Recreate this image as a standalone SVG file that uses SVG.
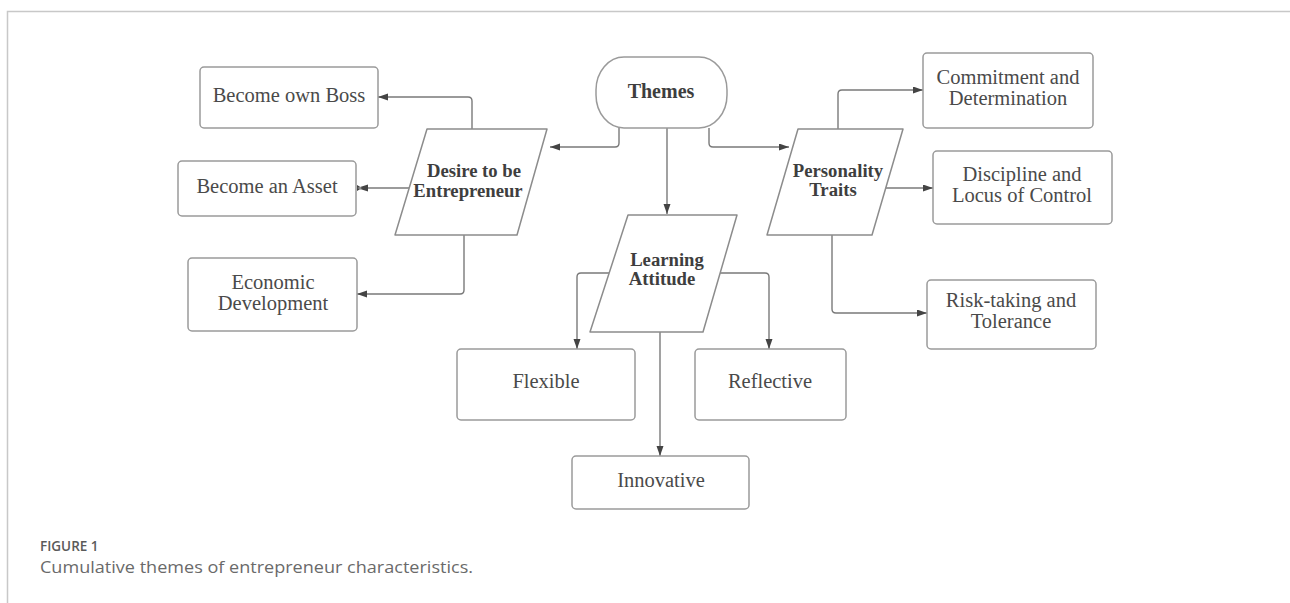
<svg xmlns="http://www.w3.org/2000/svg" width="1290" height="603" viewBox="0 0 1290 603">
  <style>
    .box { fill: #ffffff; stroke: #9a9a9a; stroke-width: 1.5; }
    .para { fill: #ffffff; stroke: #8c8c8c; stroke-width: 1.5; stroke-linejoin: round; }
    .t { font-family: "Liberation Serif", "Times New Roman", serif; font-size: 20.5px; fill: #4a4a4a; text-anchor: middle; }
    .tb { font-family: "Liberation Serif", "Times New Roman", serif; font-size: 18.7px; font-weight: bold; fill: #3e3e3e; text-anchor: middle; }
    .conn path { fill: none; stroke: #7a7a7a; stroke-width: 1.4; }
    .frame { stroke: #c8c8c8; stroke-width: 1.5; fill: none; }
    .figlabel { font-family: "Open Sans", "Liberation Sans", sans-serif; font-size: 13.5px; font-weight: 600; fill: #5a5a5a; }
    .caption { font-family: "Open Sans", "Liberation Sans", sans-serif; font-size: 16.5px; fill: #6a6a6a; }
  </style>
  <defs>
    <marker id="arr" markerUnits="userSpaceOnUse" markerWidth="10" markerHeight="8" refX="10" refY="3.5" orient="auto">
      <path d="M0,0 L10,3.5 L0,7 z" fill="#444"/>
    </marker>
    <marker id="bow" markerUnits="userSpaceOnUse" markerWidth="12" markerHeight="8" refX="11" refY="3.5" orient="auto">
      <path d="M0,0 L11,3.5 L0,7 z M11,0.5 L6,3.5 L11,6.5 z" fill="#444"/>
    </marker>
  </defs>

  <rect width="1290" height="603" fill="#ffffff"/>
  <g id="frame">
    <path class="frame" d="M7.5,603 V11.5 H1290"/>
  </g>

  <g id="connectors" class="conn">
    <path d="M472,129 V101 Q472,97 468,97 H378" marker-end="url(#arr)"/>
    <path d="M410,188 H357" marker-end="url(#bow)"/>
    <path d="M464,235 V290 Q464,294 460,294 H357" marker-end="url(#arr)"/>
    <path d="M619,128 V143 Q619,147 615,147 H550" marker-end="url(#arr)"/>
    <path d="M667,128 V214" marker-end="url(#arr)"/>
    <path d="M709,128 V143 Q709,147 713,147 H789" marker-end="url(#arr)"/>
    <path d="M838,129 V94 Q838,90 842,90 H923" marker-end="url(#arr)"/>
    <path d="M886,188 H933" marker-end="url(#arr)"/>
    <path d="M832,235 V309 Q832,313 836,313 H927" marker-end="url(#arr)"/>
    <path d="M609,273 H581 Q577,273 577,277 V349" marker-end="url(#arr)"/>
    <path d="M720,273 H765 Q769,273 769,277 V349" marker-end="url(#arr)"/>
    <path d="M660,332 V456" marker-end="url(#arr)"/>
  </g>

  <g id="themes">
    <rect class="box" x="596" y="57" width="131" height="71" rx="28" ry="33"/>
    <text class="tb" x="661" y="98" style="font-size:20px">Themes</text>
  </g>

  <g id="desire">
    <path class="para" d="M427,129 H547 L517,235 H395 Z"/>
    <text class="tb" x="474" y="177">Desire to be</text>
    <text class="tb" x="468" y="197">Entrepreneur</text>
  </g>

  <g id="learning">
    <path class="para" d="M628,215 H737 L703,332 H590 Z"/>
    <text class="tb" x="667" y="266">Learning</text>
    <text class="tb" x="662" y="285">Attitude</text>
  </g>

  <g id="personality">
    <path class="para" d="M798,129 H903 L872,235 H767 Z"/>
    <text class="tb" x="838" y="177">Personality</text>
    <text class="tb" x="833" y="196">Traits</text>
  </g>

  <g id="boss">
    <rect class="box" x="200" y="67" width="178" height="61" rx="4"/>
    <text class="t" x="289" y="102">Become own Boss</text>
  </g>

  <g id="asset">
    <rect class="box" x="178" y="161" width="178" height="55" rx="4"/>
    <text class="t" x="267" y="193">Become an Asset</text>
  </g>

  <g id="economic">
    <rect class="box" x="188" y="258" width="169" height="73" rx="4"/>
    <text class="t" x="273" y="289">Economic</text>
    <text class="t" x="273" y="310">Development</text>
  </g>

  <g id="commitment">
    <rect class="box" x="923" y="53" width="170" height="75" rx="4"/>
    <text class="t" x="1008" y="84">Commitment and</text>
    <text class="t" x="1008" y="105">Determination</text>
  </g>

  <g id="discipline">
    <rect class="box" x="933" y="151" width="179" height="73" rx="4"/>
    <text class="t" x="1022" y="181">Discipline and</text>
    <text class="t" x="1022" y="202">Locus of Control</text>
  </g>

  <g id="risk">
    <rect class="box" x="927" y="280" width="169" height="69" rx="4"/>
    <text class="t" x="1011" y="307">Risk-taking and</text>
    <text class="t" x="1011" y="328">Tolerance</text>
  </g>

  <g id="flexible">
    <rect class="box" x="457" y="349" width="178" height="71" rx="4"/>
    <text class="t" x="546" y="388">Flexible</text>
  </g>

  <g id="reflective">
    <rect class="box" x="695" y="349" width="151" height="71" rx="4"/>
    <text class="t" x="770" y="388">Reflective</text>
  </g>

  <g id="innovative">
    <rect class="box" x="572" y="456" width="177" height="53" rx="4"/>
    <text class="t" x="661" y="487">Innovative</text>
  </g>

  <g id="caption">
    <text class="figlabel" x="40" y="551">FIGURE 1</text>
    <text class="caption" x="40" y="573" textLength="433" lengthAdjust="spacingAndGlyphs">Cumulative themes of entrepreneur characteristics.</text>
  </g>
</svg>
